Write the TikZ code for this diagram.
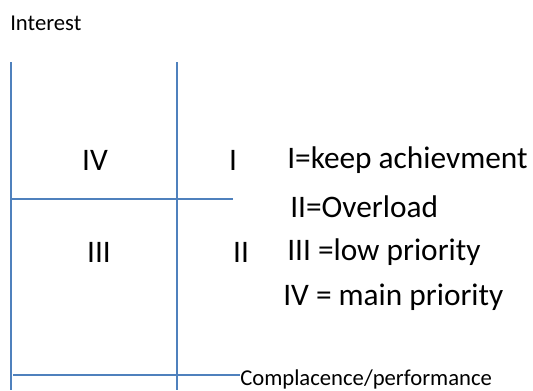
\documentclass[tikz,border=0pt]{standalone}
\usepackage{fontspec}
\setmainfont{Carlito}
\usepackage{xcolor}
\definecolor{axisblue}{RGB}{79,129,189}
\usetikzlibrary{positioning}

\begin{document}
\begin{tikzpicture}[x=0.75pt,y=-0.75pt,
    axis/.style={draw=axisblue,line width=1.6pt},
    big/.style={font=\fontsize{23.5}{26}\selectfont,inner sep=0pt},
    small/.style={font=\fontsize{17}{20}\selectfont,inner sep=0pt}]
    \useasboundingbox (0,0) rectangle (533,390);

    % axes and quadrant lines
    \coordinate (lt) at (11,62);
    \coordinate (lb) at (11,390);
    \coordinate (mt) at (177,62);
    \coordinate (mb) at (177,390);
    \coordinate (hl) at (11,199);
    \coordinate (hr) at (233,199);
    \coordinate (bl) at (13,375);
    \coordinate (br) at (240,375);
    \draw[axis] (lt) -- (lb);
    \draw[axis] (mt) -- (mb);
    \draw[axis] (hl) -- (hr);
    \draw[axis] (bl) -- (br);

    % axis labels
    \node[small,anchor=west] (interest) at (10,23) {Interest};
    \node[small,anchor=west] (perf) at (240,379) {Complacence/performance};

    % quadrants
    \node[big] (q4) at (95,160) {IV};
    \node[big] (q1) at (233,160) {I};
    \node[big] (q3) at (99,252) {III};
    \node[big] (q2) at (241,252) {II};

    % legend
    \node[big,anchor=west] (k1) at (287,160) {I=keep achievment};
    \node[big,anchor=west] (k2) at (290,207) {II=Overload};
    \node[big,anchor=west] (k3) at (287,252) {III =low priority};
    \node[big,anchor=west] (k4) at (283,297) {IV = main priority};
\end{tikzpicture}
\end{document}
